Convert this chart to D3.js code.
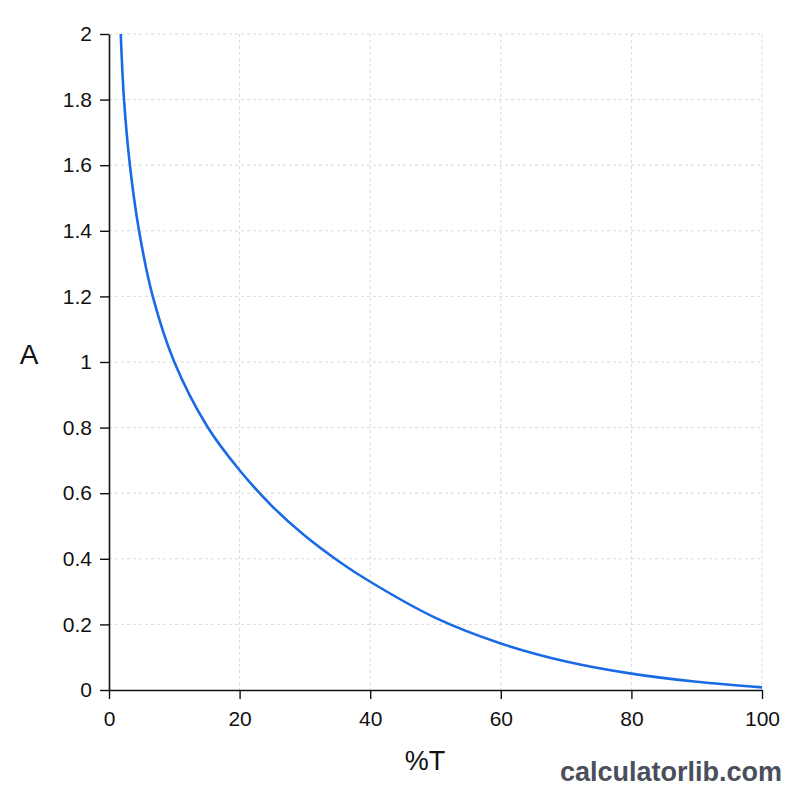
<!DOCTYPE html>
<html><head><meta charset="utf-8">
<script src="https://cdn.jsdelivr.net/npm/d3@7"></script>
<style>body{margin:0;background:#fff;}svg{display:block;font-family:"Liberation Sans",Arial,sans-serif;}</style>
</head><body>
<script>
const transmittance = [1.8, 2.3, 3.2, 4.6, 6.7, 10, 15, 20, 25, 30, 35, 40, 50, 60, 70, 80, 90, 100];
const absorbance    = [2.0, 1.8, 1.6, 1.4, 1.2, 1.0, 0.805, 0.67, 0.56, 0.47, 0.395, 0.33, 0.22, 0.142, 0.087, 0.05, 0.025, 0.008];
const xTicks = [0, 20, 40, 60, 80, 100];
const yTicks = [0, 0.2, 0.4, 0.6, 0.8, 1, 1.2, 1.4, 1.6, 1.8, 2];

const W = 800, H = 800;
const m = {left: 109, right: 762, top: 34, bottom: 690};
const svg = d3.select("body").append("svg").attr("width", W).attr("height", H);
svg.append("rect").attr("width", W).attr("height", H).attr("fill", "#fff");

const x = d3.scaleLinear().domain([0, 100]).range([m.left, m.right]);
const y = d3.scaleLinear().domain([0, 2]).range([m.bottom, m.top]);

// grid
const grid = svg.append("g").attr("stroke", "#d9d9d9").attr("stroke-width", 1).attr("stroke-dasharray", "3,3");
grid.selectAll(".gx").data(xTicks.filter(d => d > 0)).join("line")
  .attr("x1", d => x(d)).attr("x2", d => x(d)).attr("y1", m.top).attr("y2", m.bottom);
grid.selectAll(".gy").data(yTicks.filter(d => d > 0)).join("line")
  .attr("x1", m.left).attr("x2", m.right).attr("y1", d => y(d)).attr("y2", d => y(d));

// axes
const xAxis = svg.append("g").attr("transform", `translate(0,${m.bottom})`)
  .call(d3.axisBottom(x).tickValues(xTicks).tickSize(9).tickPadding(12).tickSizeOuter(0));
const yAxis = svg.append("g").attr("transform", `translate(${m.left},0)`)
  .call(d3.axisLeft(y).tickValues(yTicks).tickSize(9).tickPadding(8).tickSizeOuter(0).tickFormat(d3.format("")));
[xAxis, yAxis].forEach(a => {
  a.selectAll(".domain").attr("stroke", "#111").attr("stroke-width", 1.6);
  a.selectAll(".tick line").attr("stroke", "#111").attr("stroke-width", 1.4);
  a.selectAll(".tick text").attr("fill", "#111").style("font-size", "21px").style("font-family", "Liberation Sans, Arial, sans-serif");
});

// curve
const pts = transmittance.map((t, i) => [t, absorbance[i]]);
svg.append("path").datum(pts)
  .attr("fill", "none").attr("stroke", "#1a6ae6").attr("stroke-width", 2.6)
  .attr("d", d3.line().x(d => x(d[0])).y(d => y(d[1])).curve(d3.curveCatmullRom.alpha(0.5)));

// labels
svg.append("text").attr("x", 29).attr("y", 364).attr("text-anchor", "middle")
  .style("font-size", "28px").attr("fill", "#111").text("A");
svg.append("text").attr("x", 425).attr("y", 770).attr("text-anchor", "middle")
  .style("font-size", "27px").attr("fill", "#111").text("%T");
svg.append("text").attr("x", 782).attr("y", 781).attr("text-anchor", "end")
  .style("font-size", "27px").style("font-weight", "bold").attr("fill", "#4a4f5c")
  .style("font-family", "Liberation Sans, Arial, sans-serif").text("calculatorlib.com");
</script>
</body></html>
